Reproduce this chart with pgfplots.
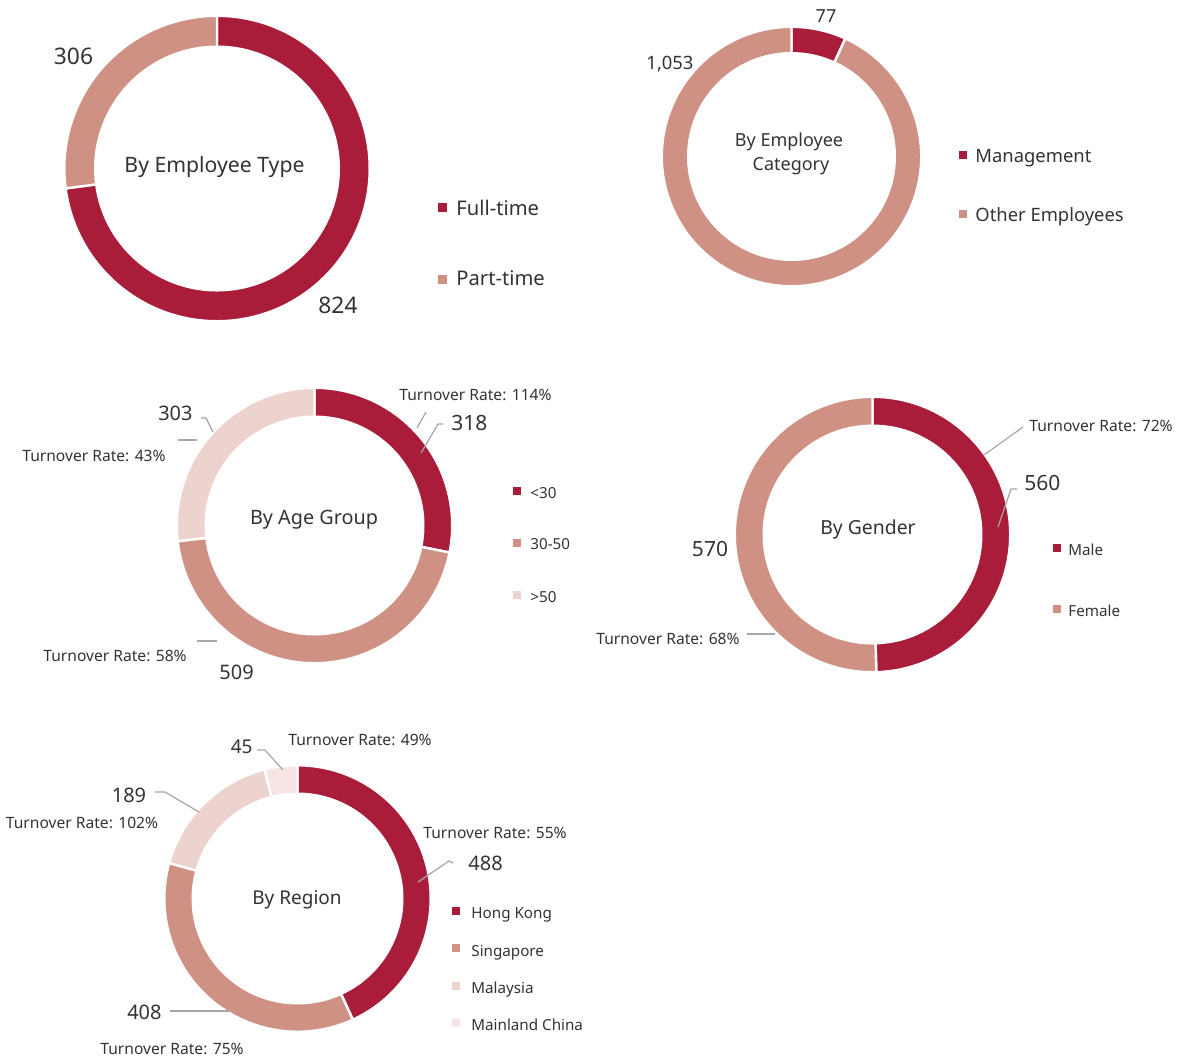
\documentclass[border=0pt]{standalone}
\usepackage{pgfplots}
\pgfplotsset{compat=1.18}
\usepackage{fontspec}
\setmainfont{Noto Sans}
\definecolor{cA}{HTML}{A91D3A}
\definecolor{cB}{HTML}{D09185}
\definecolor{cC}{HTML}{EDD3CD}
\definecolor{cD}{HTML}{F6E5E2}
\definecolor{txt}{HTML}{333333}
\definecolor{ln}{HTML}{A6A6A6}
% #1 cx, #2 cy, #3 rin, #4 rout, #5 cumulative before, #6 value, #7 total, #8 colour
\newcommand{\slice}[8]{%
  \fill[#8, draw=white, line width=1.2pt]
    (axis cs:#1,#2) ++({90-(#5)/(#7)*360}:{0.5pt*(#4+1.2)})
    arc[start angle={90-(#5)/(#7)*360}, end angle={90-(#5+#6)/(#7)*360}, radius={0.5pt*(#4+1.2)}]
    -- ++({270-(#5+#6)/(#7)*360}:{0.5pt*(#4-#3+2.4)})
    arc[start angle={90-(#5+#6)/(#7)*360}, end angle={90-(#5)/(#7)*360}, radius={0.5pt*(#3-1.2)}]
    -- cycle;}
\newcommand{\fs}[1]{\fontsize{#1}{#1}\selectfont}
\tikzset{lbl/.style={inner sep=0pt, text=txt, text height=0.72em, text depth=0pt}}
\newcommand{\legsq}[4]{\addplot[only marks, mark=square*, mark size=#4, color=#1] coordinates {(#2,#3)};}
\begin{document}
\begin{tikzpicture}
\begin{axis}[hide axis, x=0.5pt, y=0.5pt, xmin=0, xmax=1188, ymin=0, ymax=1057,
  y dir=reverse, clip=false]
\path (rel axis cs:0,0) rectangle (rel axis cs:1,1);
% ---------- By Employee Type: Full-time 824, Part-time 306
\slice{217}{168.5}{123}{151.5}{0}{824}{1130}{cA}
\slice{217}{168.5}{123}{151.5}{824}{306}{1130}{cB}
\node[lbl, font=\fs{11.4}] at (axis cs:73.5,57) {306};
\node[lbl, font=\fs{11.4}] at (axis cs:338,306) {824};
\node[lbl, font=\fs{10.6}] at (axis cs:214.5,165) {By Employee Type};
\legsq{cA}{442}{207}{2pt}
\legsq{cB}{442}{279}{2pt}
\node[lbl, font=\fs{10.1}, anchor=west] at (axis cs:456,208) {Full-time};
\node[lbl, font=\fs{10.1}, anchor=west] at (axis cs:456,278) {Part-time};
% ---------- By Employee Category: Management 77, Other 1053
\slice{791.5}{156.5}{104.5}{128.5}{0}{77}{1130}{cA}
\slice{791.5}{156.5}{104.5}{128.5}{77}{1053}{1130}{cB}
\node[lbl, font=\fs{9}] at (axis cs:826,15) {77};
\node[lbl, font=\fs{9.2}] at (axis cs:670,62) {1,053};
\node[lbl, font=\fs{9}] at (axis cs:789,139) {By Employee};
\node[lbl, font=\fs{9}] at (axis cs:791,163) {Category};
\legsq{cA}{963}{155}{1.8pt}
\legsq{cB}{963}{214}{1.8pt}
\node[lbl, font=\fs{9.2}, anchor=west] at (axis cs:975,155) {Management};
\node[lbl, font=\fs{9.2}, anchor=west] at (axis cs:975,214) {Other Employees};
% ---------- By Age Group: <30 318, 30-50 509, >50 303
\slice{314.5}{525.5}{110}{136.5}{0}{318}{1130}{cA}
\slice{314.5}{525.5}{110}{136.5}{318}{509}{1130}{cB}
\slice{314.5}{525.5}{110}{136.5}{827}{303}{1130}{cC}
\draw[ln, line width=0.6pt] (axis cs:417,428) -- (axis cs:426,412);
\draw[ln, line width=0.6pt] (axis cs:421,453) -- (axis cs:438,424) -- (axis cs:443,424);
\draw[ln, line width=0.6pt] (axis cs:201,418) -- (axis cs:206,418) -- (axis cs:213,432);
\draw[ln, line width=0.6pt] (axis cs:178,440) -- (axis cs:197,440);
\draw[ln, line width=0.6pt] (axis cs:197,641) -- (axis cs:217,641);
\node[lbl, font=\fs{7.8}, anchor=west] at (axis cs:399,393) {Turnover Rate: 114\%};
\node[lbl, font=\fs{10.5}, anchor=west] at (axis cs:451,423) {318};
\node[lbl, font=\fs{10}, anchor=east] at (axis cs:193,413) {303};
\node[lbl, font=\fs{7.8}, anchor=east] at (axis cs:166,454) {Turnover Rate: 43\%};
\node[lbl, font=\fs{7.8}, anchor=west] at (axis cs:43,654) {Turnover Rate: 58\%};
\node[lbl, font=\fs{10}, anchor=west] at (axis cs:219,672) {509};
\node[lbl, font=\fs{9.9}] at (axis cs:314,517) {By Age Group};
\legsq{cA}{517}{491}{1.8pt}
\legsq{cB}{517}{543}{1.8pt}
\legsq{cC}{517}{595}{1.8pt}
\node[lbl, font=\fs{7.6}, anchor=west] at (axis cs:530,491) {<30};
\node[lbl, font=\fs{7.6}, anchor=west] at (axis cs:530,542) {30-50};
\node[lbl, font=\fs{7.6}, anchor=west] at (axis cs:530,595) {>50};
% ---------- By Gender: Male 560, Female 570
\slice{872.5}{534.5}{110}{136.5}{0}{560}{1130}{cA}
\slice{872.5}{534.5}{110}{136.5}{560}{570}{1130}{cB}
\draw[ln, line width=0.6pt] (axis cs:984,455) -- (axis cs:1023,427);
\draw[ln, line width=0.6pt] (axis cs:998,527) -- (axis cs:1011,489) -- (axis cs:1017,489);
\draw[ln, line width=0.6pt] (axis cs:747,634) -- (axis cs:775,634);
\node[lbl, font=\fs{7.8}, anchor=west] at (axis cs:1029,424) {Turnover Rate: 72\%};
\node[lbl, font=\fs{10.5}, anchor=west] at (axis cs:1024,483) {560};
\node[lbl, font=\fs{10.5}] at (axis cs:710,549) {570};
\node[lbl, font=\fs{7.8}, anchor=east] at (axis cs:740,637) {Turnover Rate: 68\%};
\node[lbl, font=\fs{9.7}] at (axis cs:868,527) {By Gender};
\legsq{cA}{1057}{548}{1.8pt}
\legsq{cB}{1057}{609}{1.8pt}
\node[lbl, font=\fs{7.6}, anchor=west] at (axis cs:1068,548) {Male};
\node[lbl, font=\fs{7.6}, anchor=west] at (axis cs:1068,609) {Female};
% ---------- By Region: HK 488, Singapore 408, Malaysia 189, Mainland China 45
\slice{297.5}{898.5}{106}{132}{0}{488}{1130}{cA}
\slice{297.5}{898.5}{106}{132}{488}{408}{1130}{cB}
\slice{297.5}{898.5}{106}{132}{896}{189}{1130}{cC}
\slice{297.5}{898.5}{106}{132}{1085}{45}{1130}{cD}
\draw[ln, line width=0.6pt] (axis cs:257,750) -- (axis cs:265,750) -- (axis cs:283,770);
\draw[ln, line width=0.6pt] (axis cs:155,792) -- (axis cs:165,792) -- (axis cs:199,812);
\draw[ln, line width=0.6pt] (axis cs:418,882) -- (axis cs:449,861) -- (axis cs:453,863);
\draw[ln, line width=0.6pt] (axis cs:170,1011) -- (axis cs:229,1011);
\node[lbl, font=\fs{9.5}, anchor=east] at (axis cs:253,746) {45};
\node[lbl, font=\fs{7.8}, anchor=west] at (axis cs:288,738) {Turnover Rate: 49\%};
\node[lbl, font=\fs{10}] at (axis cs:129,795) {189};
\node[lbl, font=\fs{7.8}] at (axis cs:82,821) {Turnover Rate: 102\%};
\node[lbl, font=\fs{7.8}, anchor=west] at (axis cs:423,831) {Turnover Rate: 55\%};
\node[lbl, font=\fs{10}, anchor=west] at (axis cs:468,863) {488};
\node[lbl, font=\fs{10}, anchor=east] at (axis cs:162,1012) {408};
\node[lbl, font=\fs{7.8}, anchor=west] at (axis cs:100,1047) {Turnover Rate: 75\%};
\node[lbl, font=\fs{9.5}] at (axis cs:297,897) {By Region};
\legsq{cA}{456}{911}{1.8pt}
\legsq{cB}{456}{948}{1.8pt}
\legsq{cC}{456}{986}{1.8pt}
\legsq{cD}{456}{1023}{1.8pt}
\node[lbl, font=\fs{7.6}, anchor=west] at (axis cs:471,911) {Hong Kong};
\node[lbl, font=\fs{7.6}, anchor=west] at (axis cs:471,949) {Singapore};
\node[lbl, font=\fs{7.6}, anchor=west] at (axis cs:471,986) {Malaysia};
\node[lbl, font=\fs{7.6}, anchor=west] at (axis cs:471,1023) {Mainland China};
\end{axis}
\end{tikzpicture}
\end{document}
